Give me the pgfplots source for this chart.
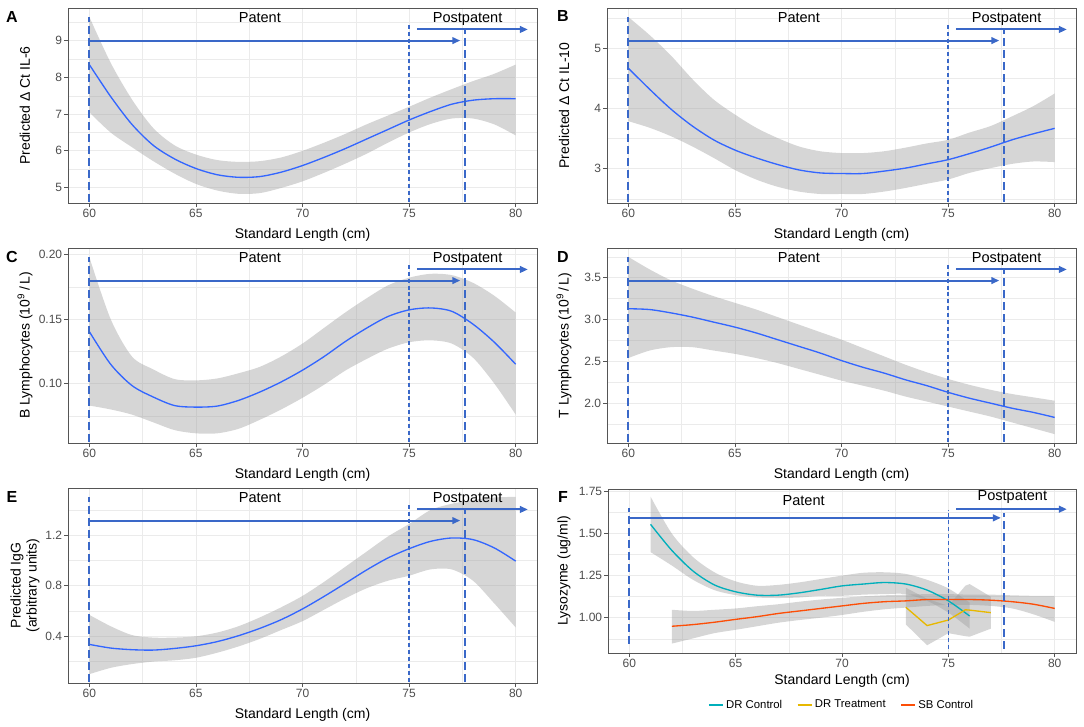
\documentclass[border=0pt]{standalone}
\usepackage{fontspec}
\setmainfont{Liberation Sans}
\usepackage{pgfplots}
\pgfplotsset{compat=1.18}
\usepackage{pgfplotstable}
\usepgfplotslibrary{fillbetween}
\usetikzlibrary{arrows.meta}

\definecolor{annotblue}{HTML}{3A68C8}
\definecolor{smoothc}{HTML}{3366FF}
\definecolor{ribbon}{HTML}{999999}
\definecolor{gridmaj}{HTML}{EBEBEB}
\definecolor{framec}{HTML}{555555}
\definecolor{ticklab}{HTML}{4D4D4D}
\definecolor{drc}{HTML}{00AFBB}
\definecolor{drt}{HTML}{E7B800}
\definecolor{sbc}{HTML}{FC4E07}

\pgfplotstableread{
x lo mid hi
60 7.05 8.35 9.65
61 6.50 7.48 8.40
62 6.10 6.72 7.40
63 5.72 6.15 6.62
64 5.38 5.78 6.15
65 5.10 5.52 5.90
66 4.92 5.35 5.75
67 4.83 5.28 5.70
68 4.85 5.30 5.72
69 4.99 5.42 5.82
70 5.17 5.60 6.00
71 5.40 5.82 6.22
72 5.65 6.06 6.46
73 5.92 6.32 6.72
74 6.22 6.58 6.96
75 6.50 6.84 7.20
76 6.73 7.07 7.45
77 6.88 7.27 7.68
78 6.88 7.38 7.90
79 6.72 7.42 8.10
80 6.42 7.42 8.35
}\tA

\pgfplotstableread{
x lo mid hi
60 3.79 4.67 5.52
61 3.68 4.32 5.22
62 3.54 3.99 4.88
63 3.37 3.71 4.49
64 3.18 3.48 4.15
65 2.98 3.31 3.90
66 2.82 3.18 3.68
67 2.70 3.07 3.51
68 2.62 2.98 3.37
69 2.58 2.93 3.29
70 2.58 2.92 3.26
71 2.58 2.92 3.26
72 2.62 2.96 3.29
73 2.68 3.01 3.35
74 2.75 3.08 3.42
75 2.82 3.15 3.48
76 2.93 3.25 3.60
77 3.01 3.36 3.71
78 3.08 3.48 3.87
79 3.12 3.58 4.04
80 3.11 3.67 4.25
}\tB

\pgfplotstableread{
x lo mid hi
60 0.0830 0.1403 0.198
61 0.0800 0.1150 0.150
62 0.0760 0.0985 0.121
63 0.0700 0.0896 0.111
64 0.0640 0.0830 0.1035
65 0.0615 0.0818 0.1025
66 0.0615 0.0826 0.104
67 0.0650 0.0870 0.108
68 0.0720 0.0935 0.113
69 0.0800 0.1013 0.121
70 0.0890 0.1104 0.131
71 0.0990 0.1208 0.143
72 0.1100 0.1325 0.155
73 0.1190 0.1429 0.166
74 0.1270 0.1519 0.176
75 0.1320 0.1571 0.182
76 0.1335 0.1586 0.185
77 0.1310 0.1560 0.184
78 0.1200 0.1460 0.178
79 0.1000 0.1320 0.168
80 0.0760 0.1150 0.155
}\tC

\pgfplotstableread{
x lo mid hi
60 2.54 3.13 3.75
61 2.63 3.12 3.60
62 2.67 3.08 3.47
63 2.67 3.03 3.37
64 2.63 2.97 3.28
65 2.59 2.91 3.20
66 2.54 2.84 3.12
67 2.48 2.76 3.03
68 2.41 2.68 2.94
69 2.34 2.60 2.85
70 2.27 2.51 2.76
71 2.21 2.43 2.66
72 2.15 2.36 2.56
73 2.08 2.28 2.46
74 2.02 2.21 2.37
75 1.96 2.13 2.29
76 1.90 2.06 2.22
77 1.84 2.00 2.16
78 1.77 1.94 2.11
79 1.70 1.89 2.07
80 1.63 1.83 2.03
}\tD

\pgfplotstableread{
x lo mid hi
60 0.10 0.336 0.57
61 0.15 0.307 0.48
62 0.18 0.294 0.41
63 0.20 0.291 0.39
64 0.21 0.304 0.39
65 0.23 0.325 0.40
66 0.27 0.358 0.43
67 0.32 0.405 0.48
68 0.38 0.463 0.55
69 0.45 0.532 0.63
70 0.52 0.617 0.72
71 0.61 0.715 0.83
72 0.70 0.819 0.95
73 0.78 0.925 1.07
74 0.84 1.020 1.19
75 0.88 1.094 1.29
76 0.93 1.152 1.40
77 0.93 1.179 1.45
78 0.84 1.166 1.48
79 0.66 1.100 1.50
80 0.47 0.996 1.505
}\tE

\pgfplotstableread{
x lo mid hi
61 1.39 1.555 1.72
62 1.31 1.400 1.50
63 1.225 1.277 1.36
64 1.164 1.195 1.27
65 1.134 1.154 1.216
66 1.12 1.134 1.19
67 1.117 1.134 1.195
68 1.12 1.148 1.21
69 1.13 1.168 1.23
70 1.13 1.189 1.25
71 1.137 1.200 1.267
72 1.14 1.209 1.27
73 1.14 1.200 1.26
74 1.10 1.164 1.225
75 1.03 1.100 1.174
76 0.935 1.010 1.09
}\tFdrc

\pgfplotstableread{
x lo mid hi
73 0.96 1.062 1.178
74 0.836 0.953 1.112
75 0.908 0.986 1.07
75.8 0.89 1.047 1.19
76 0.887 1.045 1.20
77 0.935 1.030 1.124
}\tFdrt

\pgfplotstableread{
x lo mid hi
62 0.846 0.949 1.047
63 0.877 0.959 1.040
64 0.908 0.973 1.047
65 0.928 0.990 1.055
66 0.949 1.006 1.068
67 0.970 1.025 1.080
68 0.986 1.040 1.095
69 1.000 1.055 1.108
70 1.016 1.070 1.118
71 1.035 1.085 1.127
72 1.050 1.095 1.133
73 1.060 1.100 1.137
74 1.070 1.108 1.140
75 1.076 1.108 1.140
76 1.076 1.108 1.137
77 1.070 1.104 1.137
78 1.055 1.095 1.133
79 1.020 1.080 1.130
80 0.975 1.055 1.130
}\tFsbc

\tikzset{
  bigdash/.style={draw=annotblue, line width=1.5pt, dash pattern=on 6pt off 3pt},
  smalldash/.style={draw=annotblue, line width=1.1pt, dash pattern=on 3pt off 2.2pt},
  arr/.style={draw=annotblue, fill=annotblue, line width=1.5pt, -{Triangle[length=6pt,width=5pt]}},
  ptxt/.style={font=\fontsize{10.9}{12}\selectfont, inner sep=0pt, anchor=base},
  letter/.style={font=\bfseries\fontsize{12}{12}\selectfont, inner sep=0pt},
}

\newcommand\annotAE{%
  \draw[bigdash] (rel axis cs:0.04545,0.005) -- (rel axis cs:0.04545,0.955);
  \draw[smalldash] (rel axis cs:0.72727,0.005) -- (rel axis cs:0.72727,0.918);
  \draw[bigdash] (rel axis cs:0.84545,0.005) -- (rel axis cs:0.84545,0.887);
  \draw[arr] (rel axis cs:0.04545,0.833) -- (rel axis cs:0.8364,0.833);
  \draw[arr] (rel axis cs:0.7436,0.89) -- (rel axis cs:0.9805,0.89);
  \node[ptxt] at (rel axis cs:0.409,0.926) {Patent};
  \node[ptxt] at (rel axis cs:0.852,0.926) {Postpatent};
}

\newcommand\ribbonplot[2]{%
  \addplot[name path=hi#2, draw=none, smooth, forget plot] table[x=x,y=hi]{#1};
  \addplot[name path=lo#2, draw=none, smooth, forget plot] table[x=x,y=lo]{#1};
  \addplot[fill=ribbon, fill opacity=0.4, draw=none, forget plot] fill between[of=hi#2 and lo#2];
  \addplot[smoothc, line width=1pt, smooth, no marks] table[x=x,y=mid]{#1};
}

\pgfplotsset{
  panel/.style={
    scale only axis, width=351.75pt, height=146.25pt,
    xmin=59, xmax=81,
    xtick={60,65,70,75,80}, xticklabels={60,65,70,75,80},
    minor xtick={62.5,67.5,72.5,77.5},
    grid=both,
    major grid style={gridmaj, line width=0.6pt},
    minor grid style={gridmaj, line width=0.3pt},
    axis line style={framec, line width=0.6pt},
    tick align=outside, tick pos=left,
    major tick length=3pt, minor tick length=0pt,
    tick style={framec, line width=0.6pt},
    tick label style={font=\fontsize{9}{10}\selectfont, text=ticklab, inner sep=1.2pt},
    xlabel={Standard Length (cm)},
    xlabel style={at={(rel axis cs:0.5,-0.164)}, anchor=center, font=\fontsize{10.5}{12}\selectfont},
    ylabel style={at={(rel axis cs:-0.0917,0.5)}, anchor=center, font=\fontsize{10.5}{12}\selectfont},
  },
}

\begin{document}
\begin{tikzpicture}

% A
\begin{axis}[panel, at={(51pt,-152.25pt)}, anchor=south west,
  ymin=4.58, ymax=9.89, ytick={5,6,7,8,9}, yticklabels={5,6,7,8,9},
  minor ytick={5.5,6.5,7.5,8.5,9.5},
  ylabel={Predicted Δ Ct IL-6}]
\ribbonplot{\tA}{A}
\annotAE
\end{axis}

% B
\begin{axis}[panel, at={(455.25pt,-152.25pt)}, anchor=south west,
  ymin=2.43, ymax=5.67, ytick={3,4,5}, yticklabels={3,4,5},
  minor ytick={2.5,3.5,4.5,5.5},
  ylabel={Predicted Δ Ct IL-10}]
\ribbonplot{\tB}{B}
\annotAE
\end{axis}

% C
\begin{axis}[panel, at={(51pt,-332.25pt)}, anchor=south west,
  ymin=0.054, ymax=0.205, ytick={0.10,0.15,0.20}, yticklabels={0.10,0.15,0.20},
  minor ytick={0.075,0.125,0.175},
  ylabel={B Lymphocytes (10\textsuperscript{9}\,/\,L)}]
\ribbonplot{\tC}{C}
\annotAE
\end{axis}

% D
\begin{axis}[panel, at={(455.25pt,-332.25pt)}, anchor=south west,
  ymin=1.524, ymax=3.856, ytick={2.0,2.5,3.0,3.5}, yticklabels={2.0,2.5,3.0,3.5},
  minor ytick={1.75,2.25,2.75,3.25,3.75},
  ylabel={T Lymphocytes (10\textsuperscript{9}\,/\,L)}]
\ribbonplot{\tD}{D}
\annotAE
\end{axis}

% E
\begin{axis}[panel, at={(51pt,-512.25pt)}, anchor=south west,
  ymin=0.03, ymax=1.575, ytick={0.4,0.8,1.2}, yticklabels={0.4,0.8,1.2},
  minor ytick={0.2,0.6,1.0,1.4},
  ylabel={Predicted IgG\\(arbitrary units)},
  ylabel style={align=center, font=\fontsize{10.5}{12}\selectfont}]
\ribbonplot{\tE}{E}
\annotAE
\end{axis}

% F
\begin{axis}[panel, at={(456pt,-489.75pt)}, anchor=south west,
  width=351pt, height=123pt,
  ymin=0.79, ymax=1.765, ytick={1.00,1.25,1.50,1.75}, yticklabels={1.00,1.25,1.50,1.75},
  minor ytick={0.875,1.125,1.375,1.625},
  ylabel={Lysozyme (ug/ml)},
  ylabel style={at={(rel axis cs:-0.094,0.5)}},
  xlabel style={at={(rel axis cs:0.5,-0.17)}},
  legend style={at={(0.5,-0.317)}, anchor=center, draw=none, fill=none,
    legend columns=3, font=\fontsize{8.5}{10}\selectfont,
    /tikz/every even column/.append style={column sep=9pt}},
  legend image code/.code={\draw[#1, line width=1pt] (0pt,0pt) -- (10.5pt,0pt);},
]
\addplot[name path=hiF1, draw=none, smooth, forget plot] table[x=x,y=hi]{\tFdrc};
\addplot[name path=loF1, draw=none, smooth, forget plot] table[x=x,y=lo]{\tFdrc};
\addplot[fill=ribbon, fill opacity=0.4, draw=none, forget plot] fill between[of=hiF1 and loF1];
\addplot[name path=hiF2, draw=none, forget plot] table[x=x,y=hi]{\tFdrt};
\addplot[name path=loF2, draw=none, forget plot] table[x=x,y=lo]{\tFdrt};
\addplot[fill=ribbon, fill opacity=0.4, draw=none, forget plot] fill between[of=hiF2 and loF2];
\addplot[name path=hiF3, draw=none, smooth, forget plot] table[x=x,y=hi]{\tFsbc};
\addplot[name path=loF3, draw=none, smooth, forget plot] table[x=x,y=lo]{\tFsbc};
\addplot[fill=ribbon, fill opacity=0.4, draw=none, forget plot] fill between[of=hiF3 and loF3];
\addplot[drc, line width=1pt, smooth, no marks] table[x=x,y=mid]{\tFdrc};
\addlegendentry{DR Control}
\addplot[drt, line width=1pt, no marks] table[x=x,y=mid]{\tFdrt};
\addlegendentry{DR Treatment}
\addplot[sbc, line width=1pt, smooth, no marks] table[x=x,y=mid]{\tFsbc};
\addlegendentry{SB Control}
\draw[bigdash] (rel axis cs:0.04545,0.057) -- (rel axis cs:0.04545,0.883);
\draw[smalldash] (rel axis cs:0.72727,0.025) -- (rel axis cs:0.72727,0.873);
\draw[bigdash] (rel axis cs:0.84545,0.025) -- (rel axis cs:0.84545,0.852);
\draw[arr] (rel axis cs:0.0477,0.824) -- (rel axis cs:0.8395,0.824);
\draw[arr] (rel axis cs:0.7436,0.877) -- (rel axis cs:0.9805,0.877);
\node[ptxt] at (rel axis cs:0.418,0.898) {Patent};
\node[ptxt] at (rel axis cs:0.864,0.93) {Postpatent};
\end{axis}

\node[letter] at (9pt,-12.75pt) {A};
\node[letter] at (422.25pt,-12pt) {B};
\node[letter] at (9pt,-192.75pt) {C};
\node[letter] at (422.25pt,-192.75pt) {D};
\node[letter] at (9pt,-372.75pt) {E};
\node[letter] at (422.25pt,-372.75pt) {F};

\pgfresetboundingbox
\useasboundingbox (0,0) rectangle (813pt,-544.5pt);
\end{tikzpicture}
\end{document}
